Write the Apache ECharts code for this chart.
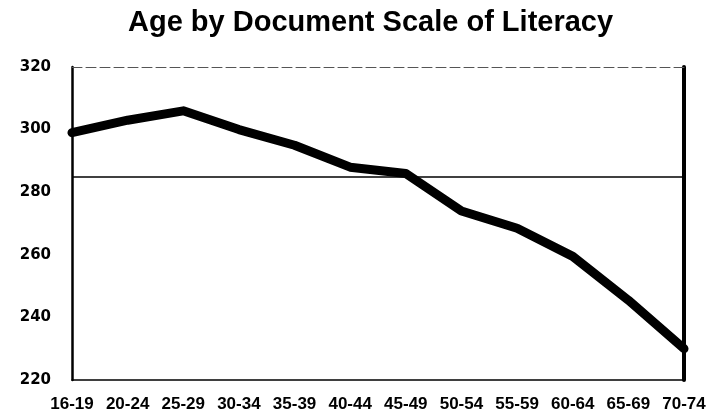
<!DOCTYPE html>
<html>
<head>
<meta charset="utf-8">
<script src="https://cdn.jsdelivr.net/npm/echarts@6/dist/echarts.min.js"></script>
<style>
    html, body { margin: 0; padding: 0; background: #fff; }
    #chart { width: 709px; height: 419px; }
</style>
</head>
<body>
<div id="chart"></div>
<script>
var ageGroups = ['16-19', '20-24', '25-29', '30-34', '35-39', '40-44', '45-49', '50-54', '55-59', '60-64', '65-69', '70-74'];
var docScores = [299, 303, 306, 300, 295, 288, 286, 274, 268.5, 259.5, 245.5, 230];
var averageScore = 285;

var chart = echarts.init(document.getElementById('chart'));
chart.setOption({
    animation: false,
    backgroundColor: '#fff',
    title: {
        text: 'Age by Document Scale of Literacy',
        left: 123,
        top: 3,
        textStyle: {
            fontFamily: 'Liberation Sans, Arial, sans-serif',
            fontSize: 29,
            fontWeight: 'bold',
            color: '#000'
        }
    },
    grid: { left: 72, right: 25, top: 67, bottom: 39 },
    xAxis: [{
        type: 'category',
        data: ageGroups,
        boundaryGap: false,
        axisLine: { lineStyle: { color: '#000', width: 1.5 } },
        axisTick: { show: false },
        axisLabel: {
            margin: 16,
            interval: 0,
            color: '#000',
            fontFamily: 'Liberation Sans, Arial, sans-serif',
            fontWeight: 'bold',
            fontSize: 17
        }
    }, {
        type: 'category',
        data: ageGroups,
        boundaryGap: false,
        position: 'top',
        axisLine: { lineStyle: { color: '#555', width: 1, type: [10, 4] } },
        axisTick: { show: false },
        axisLabel: { show: false }
    }],
    yAxis: [{
        type: 'value',
        min: 220,
        max: 320,
        interval: 20,
        axisLine: { show: true, lineStyle: { color: '#000', width: 2.5 } },
        axisTick: { show: false },
        splitLine: { show: false },
        axisLabel: {
            margin: 21,
            color: '#000',
            fontFamily: 'DejaVu Sans, sans-serif',
            fontWeight: 'bold',
            fontSize: 15
        }
    }, {
        type: 'value',
        min: 220,
        max: 320,
        interval: 20,
        position: 'right',
        axisLine: { show: true, lineStyle: { color: '#000', width: 4 } },
        axisTick: { show: false },
        splitLine: { show: false },
        axisLabel: { show: false }
    }],
    series: [{
        type: 'line',
        data: docScores,
        symbol: 'none',
        lineStyle: { color: '#000', width: 9, join: 'round', cap: 'round' },
        markLine: {
            silent: true,
            symbol: 'none',
            label: { show: false },
            lineStyle: { color: '#000', width: 1.5, type: 'solid' },
            data: [{ yAxis: averageScore }]
        }
    }]
});
</script>
</body>
</html>
